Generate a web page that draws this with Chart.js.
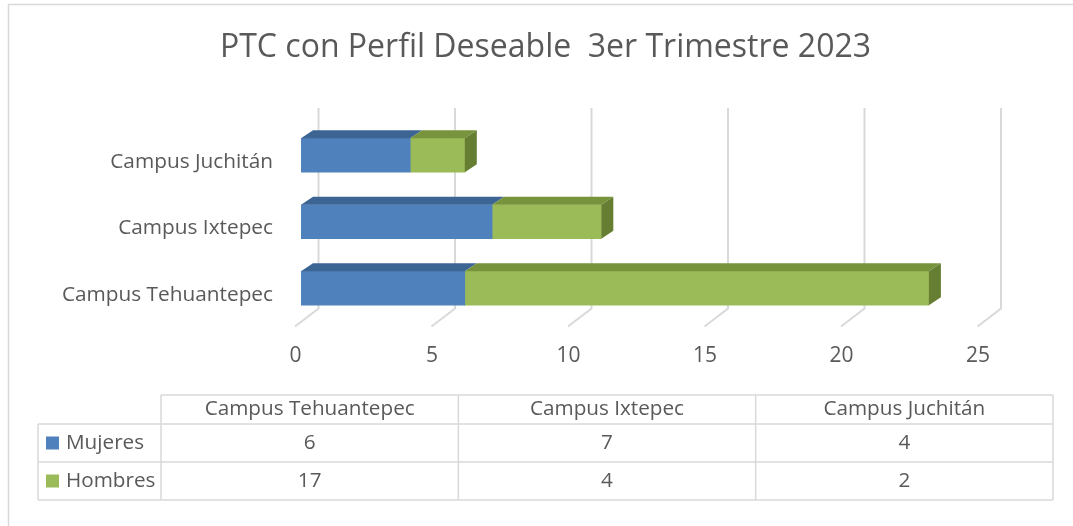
<!DOCTYPE html>
<html>
<head>
<meta charset="utf-8">
<title>PTC con Perfil Deseable</title>
<script src="https://cdn.jsdelivr.net/npm/chart.js@4.4.0/dist/chart.umd.min.js"></script>
<style>
  html, body { margin: 0; padding: 0; background: #ffffff; }
  canvas { display: block; }
</style>
</head>
<body>
<canvas id="ptcChart" width="1073" height="526"></canvas>
<script>
// data (table order, the chart shows it bottom-up like Excel does)
const campuses = ['Campus Tehuantepec', 'Campus Ixtepec', 'Campus Juchitán'];
const mujeres = [6, 7, 4];
const hombres = [17, 4, 2];
const seriesNames = ['Mujeres', 'Hombres'];
const xTicks = [0, 5, 10, 15, 20, 25];
const chartTitle = 'PTC con Perfil Deseable  3er Trimestre 2023';

const textColor = '#595959';
const lineColor = '#d9d9d9';
const FONT = "'Open Sans', sans-serif";

// front / top / side faces
const blueFaces = ['#4f81bd', '#3d6593', '#34587f'];
const greenFaces = ['#9bbb59', '#77933c', '#657e31'];

// 3d depth of the bars and of the back wall
const DX = 12, DY = 8;

// frame, title and gridlines drawn behind the bars
const backgroundPlugin = {
    id: 'background',
    beforeDatasetsDraw(chart) {
        const ctx = chart.ctx;
        const area = chart.chartArea;
        const xScale = chart.scales.x;
        ctx.save();

        // outer frame
        ctx.strokeStyle = lineColor;
        ctx.lineWidth = 1.5;
        ctx.beginPath();
        ctx.moveTo(8.5, 526);
        ctx.lineTo(8.5, 4.5);
        ctx.lineTo(1073, 4.5);
        ctx.stroke();

        // title
        ctx.fillStyle = textColor;
        ctx.font = '32px ' + FONT;
        ctx.textAlign = 'center';
        ctx.textBaseline = 'middle';
        ctx.fillText(chartTitle, 545.5, 48);

        // back wall + floor gridlines
        ctx.strokeStyle = lineColor;
        ctx.lineWidth = 2;
        xTicks.forEach(function(v) {
            const px = xScale.getPixelForValue(v);
            ctx.beginPath();
            ctx.moveTo(px + 17.5, area.top - 14);
            ctx.lineTo(px + 17.5, area.bottom - 13);
            ctx.lineTo(px - 6, area.bottom + 5);
            ctx.stroke();
        });
        ctx.restore();
    }
};

// top and side faces of the bars
const bars3dPlugin = {
    id: 'bars3d',
    afterDatasetsDraw(chart) {
        const ctx = chart.ctx;
        ctx.save();
        const last = chart.data.datasets.length - 1;
        chart.data.datasets.forEach(function(ds, i) {
            const meta = chart.getDatasetMeta(i);
            meta.data.forEach(function(bar) {
                const p = bar.getProps(['x', 'y', 'base', 'height'], true);
                const yTop = p.y - p.height / 2;
                const yBot = p.y + p.height / 2;
                ctx.fillStyle = ds.faces[1];
                ctx.beginPath();
                ctx.moveTo(p.base, yTop);
                ctx.lineTo(p.x, yTop);
                ctx.lineTo(p.x + DX, yTop - DY);
                ctx.lineTo(p.base + DX, yTop - DY);
                ctx.closePath();
                ctx.fill();
                if (i === last) {
                    ctx.fillStyle = ds.faces[2];
                    ctx.beginPath();
                    ctx.moveTo(p.x, yTop);
                    ctx.lineTo(p.x + DX, yTop - DY);
                    ctx.lineTo(p.x + DX, yBot - DY);
                    ctx.lineTo(p.x, yBot);
                    ctx.closePath();
                    ctx.fill();
                }
            });
        });
        ctx.restore();
    }
};

// data table under the chart
const dataTablePlugin = {
    id: 'dataTable',
    afterDraw(chart) {
        const ctx = chart.ctx;
        const legendLeft = 38;
        const colStart = 161;
        const right = 1053;
        const colW = (right - colStart) / campuses.length;
        const rows = [395, 424, 462, 500];
        const values = [mujeres, hombres];
        const faces = [blueFaces, greenFaces];

        ctx.save();
        ctx.strokeStyle = lineColor;
        ctx.lineWidth = 1.5;
        ctx.beginPath();
        // horizontal lines
        ctx.moveTo(colStart, rows[0]); ctx.lineTo(right, rows[0]);
        for (let r = 1; r < rows.length; r++) {
            ctx.moveTo(legendLeft, rows[r]); ctx.lineTo(right, rows[r]);
        }
        // vertical lines
        ctx.moveTo(legendLeft, rows[1]); ctx.lineTo(legendLeft, rows[3]);
        for (let c = 0; c <= campuses.length; c++) {
            const x = colStart + c * colW;
            ctx.moveTo(x, rows[0]); ctx.lineTo(x, rows[3]);
        }
        ctx.stroke();

        ctx.fillStyle = textColor;
        ctx.font = '20.7px ' + FONT;
        ctx.textBaseline = 'middle';
        ctx.textAlign = 'center';
        campuses.forEach(function(name, c) {
            ctx.fillText(name, colStart + (c + 0.5) * colW, (rows[0] + rows[1]) / 2);
        });
        values.forEach(function(vals, r) {
            const yMid = (rows[r + 1] + rows[r + 2]) / 2;
            vals.forEach(function(v, c) {
                ctx.fillStyle = textColor;
                ctx.fillText(String(v), colStart + (c + 0.5) * colW, yMid);
            });
            // legend key
            ctx.fillStyle = faces[r][0];
            ctx.fillRect(46, yMid - 6.5, 13, 13);
            ctx.fillStyle = textColor;
            ctx.textAlign = 'left';
            ctx.fillText(seriesNames[r], 66, yMid);
            ctx.textAlign = 'center';
        });
        ctx.restore();
    }
};

const ctx = document.getElementById('ptcChart').getContext('2d');

new Chart(ctx, {
    type: 'bar',
    data: {
        labels: campuses,
        datasets: [
            {
                label: seriesNames[0],
                data: mujeres,
                backgroundColor: blueFaces[0],
                faces: blueFaces,
                borderWidth: 0,
                barThickness: 34
            },
            {
                label: seriesNames[1],
                data: hombres,
                backgroundColor: greenFaces[0],
                faces: greenFaces,
                borderWidth: 0,
                barThickness: 34
            }
        ]
    },
    options: {
        indexAxis: 'y',
        responsive: false,
        animation: false,
        layout: {
            padding: { top: 122, right: 89.5, bottom: 0, left: 0 }
        },
        plugins: {
            legend: { display: false },
            title: { display: false },
            tooltip: { enabled: false }
        },
        scales: {
            x: {
                stacked: true,
                min: 0,
                max: 25,
                border: { display: false },
                grid: { display: false, drawTicks: false },
                afterBuildTicks(scale) {
                    scale.ticks = xTicks.map(v => ({ value: v }));
                },
                afterFit(scale) {
                    scale.height = 204.5;
                },
                ticks: {
                    color: textColor,
                    font: { family: FONT, size: 21 },
                    padding: 21.5,
                    labelOffset: -5.5,
                    maxRotation: 0
                }
            },
            y: {
                stacked: true,
                reverse: true,
                border: { display: false },
                grid: { display: false, drawTicks: false },
                afterFit(scale) {
                    scale.width = 301;
                },
                ticks: {
                    color: textColor,
                    font: { family: FONT, size: 20.8 },
                    padding: 28,
                    labelOffset: 6.5
                }
            }
        }
    },
    plugins: [backgroundPlugin, bars3dPlugin, dataTablePlugin]
});
</script>
</body>
</html>
